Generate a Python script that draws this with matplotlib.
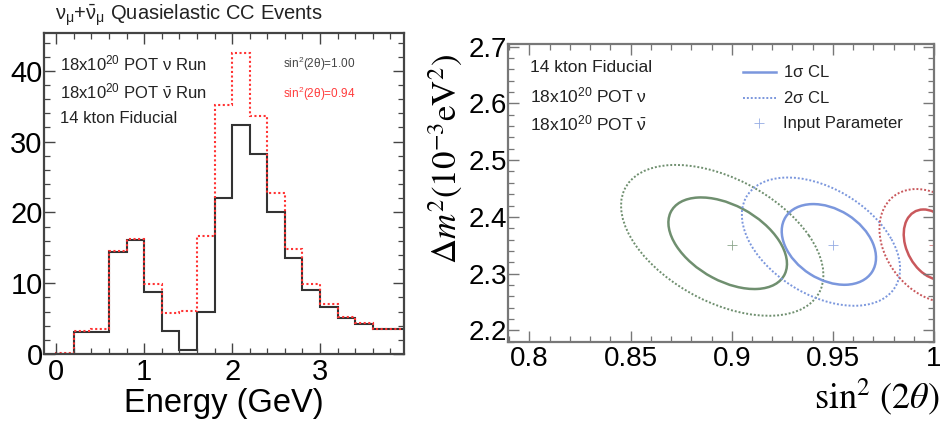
import numpy as np
import matplotlib
matplotlib.use("Agg")
import matplotlib.pyplot as plt
from matplotlib.patches import Ellipse
from matplotlib.ticker import MultipleLocator

plt.rcParams['font.family'] = ['Liberation Sans', 'DejaVu Sans']
plt.rcParams['mathtext.fontset'] = 'custom'
plt.rcParams['mathtext.rm'] = 'Liberation Sans'
plt.rcParams['mathtext.it'] = 'Liberation Sans:italic'
plt.rcParams['mathtext.bf'] = 'Liberation Sans:bold'

# --- quasielastic CC event spectrum, 0.2 GeV bins from 0 to 4 GeV ---
bin_edges = np.linspace(0.0, 4.0, 21)
events_s1 = [0.0, 3.15, 3.15, 14.45, 16.1, 8.7, 3.25, 0.56, 5.9, 22.1,
             32.3, 28.2, 20.1, 13.5, 9.1, 6.6, 5.04, 4.24, 3.53, 3.53]
events_s094 = [0.18, 3.3, 3.6, 14.6, 16.3, 9.9, 5.75, 6.1, 16.6, 35.2,
               42.5, 33.6, 22.8, 14.8, 9.9, 7.06, 5.27, 4.4, 3.6, 3.6]

# --- fit contours: centre, half extent in x / y, correlation ---
contour_names = ['g1', 'g2', 'b1', 'b2', 'r1', 'r2']
contour_cx = [0.898, 0.8953, 0.948, 0.9441, 0.999, 0.999]
contour_cy = [2.3535, 2.3586, 2.3514, 2.3563, 2.351, 2.349]
contour_hx = [0.0293, 0.050, 0.0233, 0.0391, 0.014, 0.026]
contour_hy = [0.0807, 0.1329, 0.0711, 0.1130, 0.062, 0.100]
contour_rho = [-0.45, -0.46, -0.33, -0.42, -0.3, -0.3]
contour_level = ['1s', '2s', '1s', '2s', '1s', '2s']

input_s2t = [0.90, 0.95, 1.00]
input_dm2 = [2.35, 2.35, 2.35]

green = '#6f8f6f'
blue = '#7b97dd'
red = '#c9585c'
contour_color = [green, green, blue, blue, red, red]


def draw_contour(ax, cx, cy, hx, hy, rho, **kw):
    cov = np.array([[hx * hx, rho * hx * hy], [rho * hx * hy, hy * hy]])
    vals, vecs = np.linalg.eigh(cov)
    angle = np.degrees(np.arctan2(vecs[1, 1], vecs[0, 1]))
    e = Ellipse((cx, cy), 2 * np.sqrt(vals[1]), 2 * np.sqrt(vals[0]),
                angle=angle, fill=False, **kw)
    ax.add_patch(e)


def root_frame(ax, color):
    for sp in ax.spines.values():
        sp.set_color(color)
        sp.set_linewidth(1.6)
    ax.tick_params(which='both', direction='in', top=True, right=True,
                   color=color)
    ax.tick_params(which='major', length=8, width=1.0)
    ax.tick_params(which='minor', length=4, width=0.9)


fig = plt.figure(figsize=(9.4, 4.26), dpi=100)

# ---------------- left: energy spectrum ----------------
ax1 = fig.add_axes([0.0468, 0.169, 0.383, 0.7528])
ax1.stairs(events_s1, bin_edges, baseline=0, color='#333333', lw=1.5)
ax1.stairs(events_s094, bin_edges, baseline=0, color='#ff3333', lw=1.5,
           linestyle=(0, (1, 1.2)))
ax1.set_xlim(-0.14, 3.955)
ax1.set_ylim(0, 45.3)
ax1.xaxis.set_major_locator(MultipleLocator(1))
ax1.xaxis.set_minor_locator(MultipleLocator(0.2))
ax1.yaxis.set_major_locator(MultipleLocator(10))
ax1.yaxis.set_minor_locator(MultipleLocator(2))
root_frame(ax1, '#444444')
ax1.tick_params(axis='x', labelsize=21, pad=3)
ax1.tick_params(axis='y', labelsize=21, pad=1)
ax1.set_xlabel('Energy (GeV)', fontsize=23.5)
ax1.xaxis.set_label_coords(0.5, -0.105)

fig.text(0.0585, 0.965,
         r'$\mathrm{\nu_{\mu}}$+$\mathrm{\bar{\nu}_{\mu}}$ Quasielastic CC Events',
         fontsize=14.5, va='center', color='#222222')
left_lines = [r'18x10$^{20}$ POT $\mathrm{\nu}$ Run',
              r'18x10$^{20}$ POT $\mathrm{\bar{\nu}}$ Run',
              '14 kton Fiducial']
for i, s in enumerate(left_lines):
    ax1.text(0.045, 0.905 - i * 0.086, s, fontsize=12, va='center',
             transform=ax1.transAxes, color='#222222')
ax1.text(0.665, 0.905, r'sin$^{2}$(2$\mathrm{\theta}$)=1.00', fontsize=8.5,
         va='center', transform=ax1.transAxes, color='#444444')
ax1.text(0.665, 0.81, r'sin$^{2}$(2$\mathrm{\theta}$)=0.94', fontsize=8.5,
         va='center', transform=ax1.transAxes, color='#ff3b3b')

# ---------------- right: oscillation parameter contours ----------------
ax2 = fig.add_axes([0.5408, 0.1979, 0.4529, 0.698])
for i in range(len(contour_names)):
    if contour_level[i] == '1s':
        style = dict(lw=1.8, linestyle='-')
    else:
        style = dict(lw=1.4, linestyle=(0, (1, 1)))
    draw_contour(ax2, contour_cx[i], contour_cy[i], contour_hx[i],
                 contour_hy[i], contour_rho[i], color=contour_color[i], **style)
for x, y, c in zip(input_s2t, input_dm2, [green, blue, red]):
    ax2.plot(x, y, marker='+', ms=7, mew=0.6, color=c, ls='none', alpha=0.8)

ax2.set_xlim(0.7896, 1.0)
ax2.set_ylim(2.18, 2.704)
ax2.xaxis.set_major_locator(MultipleLocator(0.05))
ax2.xaxis.set_minor_locator(MultipleLocator(0.01))
ax2.yaxis.set_major_locator(MultipleLocator(0.1))
ax2.yaxis.set_minor_locator(MultipleLocator(0.02))
ax2.set_xticks([0.8, 0.85, 0.9, 0.95, 1.0], ['0.8', '0.85', '0.9', '0.95', '1'])
root_frame(ax2, '#777777')
ax2.tick_params(axis='x', labelsize=20, pad=3)
ax2.tick_params(axis='y', labelsize=20, pad=1)

ax2.set_ylabel(r'$\Delta m^{2}(10^{-3}\mathrm{eV}^{2})$', fontsize=25,
               math_fontfamily='stix', va='center')
ax2.yaxis.set_label_coords(-0.146, 0.614)
ax2.set_xlabel(r'$\sin^{2}\,(2\theta)$', fontsize=26, math_fontfamily='stix',
               ha='right', va='center')
ax2.xaxis.set_label_coords(1.013, -0.186)

right_lines = ['14 kton Fiducial',
               r'18x10$^{20}$ POT $\mathrm{\nu}$',
               r'18x10$^{20}$ POT $\mathrm{\bar{\nu}}$']
for i, s in enumerate(right_lines):
    ax2.text(0.05, 0.923 - i * 0.095, s, fontsize=12.5, va='center',
             transform=ax2.transAxes, color='#222222')

# legend drawn as in ROOT: sample line + label
leg_x0, leg_x1, leg_tx = 0.55, 0.628, 0.645
ax2.plot([leg_x0, leg_x1], [0.906, 0.906], color=blue, lw=1.8,
         transform=ax2.transAxes)
ax2.plot([leg_x0, leg_x1], [0.819, 0.819], color=blue, lw=1.4,
         linestyle=(0, (1, 1)), transform=ax2.transAxes)
ax2.plot([0.589], [0.735], marker='+', ms=7, mew=0.6, color=blue,
         alpha=0.8, transform=ax2.transAxes)
for y, s in zip([0.906, 0.819, 0.735],
                [r'1$\mathrm{\sigma}$ CL', r'2$\mathrm{\sigma}$ CL',
                 'Input Parameter']):
    ax2.text(leg_tx, y, s, fontsize=12, va='center', transform=ax2.transAxes,
             color='#222222')

fig.savefig('out.png', dpi=100)
